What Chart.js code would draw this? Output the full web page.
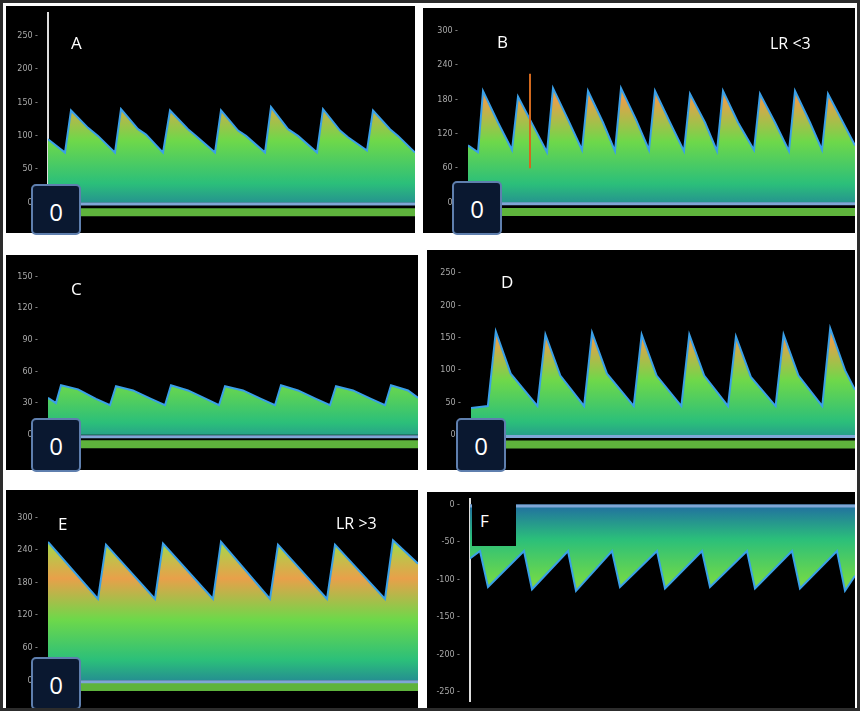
<!DOCTYPE html>
<html><head><meta charset="utf-8">
<script src="https://cdn.jsdelivr.net/npm/chart.js@4"></script>
<style>
html,body{margin:0;padding:0;background:#fff;}
#frame{position:relative;width:854px;height:705px;border:3px solid #2c2c2c;background:#fff;overflow:hidden;}
.panel{position:absolute;background:#000;}
.panel canvas{position:absolute;left:0;top:0;}
.lbl{position:absolute;color:#fff;font:17px "Open Sans",sans-serif;}
.zero{position:absolute;width:50px;height:50px;background:#0a1830;border:2px solid #5f7fae;border-radius:5px;color:#fff;font:24px "Open Sans",sans-serif;text-align:center;line-height:52px;box-sizing:border-box;}
</style></head><body>
<div id="frame"></div>
<script>
// waveform points: [time offset, velocity cm/s]
const waveA = [[0,95],[17,75],[23,138],[40,112],[50,100],[67,75],[73,140],[90,110],[98,102],[115,75],[122,138],[140,110],[148,100],[167,75],[173,138],[190,108],[198,100],[217,75],[223,143],[240,110],[250,100],[269,75],[275,140],[292,108],[300,98],[319,78],[325,138],[342,110],[350,100],[367,75]];
const waveB = [[0,100],[10,88],[15,195],[30,140],[44,92],[50,185],[65,135],[79,88],[85,200],[100,145],[114,92],[120,195],[135,140],[147,90],[153,200],[168,145],[181,92],[187,195],[202,140],[216,90],[222,190],[237,140],[249,90],[255,195],[270,140],[286,92],[292,190],[307,140],[321,90],[327,195],[342,140],[354,92],[360,190],[375,140],[387,100]];
const waveC = [[0,35],[8,30],[13,47],[30,43],[48,34],[62,28],[68,46],[85,42],[103,34],[117,28],[123,47],[140,42],[158,34],[171,28],[177,46],[195,42],[213,34],[227,28],[233,47],[250,42],[268,34],[282,28],[288,46],[305,42],[323,34],[337,28],[343,47],[360,42],[370,35]];
const waveD = [[0,42],[17,45],[25,160],[40,95],[67,45],[75,155],[90,92],[114,45],[122,158],[137,95],[164,45],[172,155],[187,92],[212,45],[220,155],[235,92],[259,45],[267,152],[282,90],[307,45],[315,155],[330,92],[354,45],[362,165],[377,100],[387,70]];
const waveE = [[0,255],[50,150],[58,250],[107,150],[115,252],[165,150],[173,255],[222,150],[230,250],[279,150],[287,250],[337,150],[345,258],[370,215]];
const waveF = [[0,-72],[10,-62],[18,-110],[54,-62],[62,-113],[98,-62],[106,-115],[142,-62],[150,-110],[187,-62],[195,-112],[232,-62],[240,-110],[277,-62],[285,-112],[322,-62],[330,-112],[367,-62],[375,-115],[385,-95]];

const ticksA = [0,50,100,150,200,250];
const ticksB = [0,60,120,180,240,300];
const ticksC = [0,30,60,90,120,150];
const ticksD = [0,50,100,150,200,250];
const ticksE = [0,60,120,180,240,300];
const ticksF = [-250,-200,-150,-100,-50,0];

const panels = [
  {id:'A', x:3, y:3, w:409, h:227, axis:42, span:367, min:-35, max:284, wave:waveA, ticks:ticksA, border:true, band:-14, letter:[65,25], zero:[25,178]},
  {id:'B', x:420, y:5, w:432, h:225, axis:45, span:387, min:-41, max:328, wave:waveB, ticks:ticksB, border:false, band:-16, letter:[74,22], zero:[29,173], note:['LR <3',347,24], mark:[62,60,145]},
  {id:'C', x:3, y:252, w:412, h:215, axis:42, span:370, min:-27, max:164, wave:waveC, ticks:ticksC, border:false, band:-9, letter:[65,22], zero:[25,163]},
  {id:'D', x:424, y:247, w:428, h:220, axis:44, span:387, min:-43, max:275, wave:waveD, ticks:ticksD, border:false, band:-14, letter:[74,20], zero:[29,168]},
  {id:'E', x:3, y:487, w:412, h:218, axis:42, span:370, min:-38, max:338, wave:waveE, ticks:ticksE, border:false, band:-12, letter:[52,22], zero:[25,167], note:['LR >3',330,22]},
  {id:'F', x:424, y:489, w:428, h:216, axis:43, span:385, min:-262, max:7.5, wave:waveF, ticks:ticksF, border:true, band:null, letter:[45,6]},
];

const frame = document.getElementById('frame');

function fillGrad(ctx, inverted) {
  const {chartArea} = ctx.chart; if (!chartArea) return null;
  const g = ctx.chart.ctx.createLinearGradient(0, chartArea.top, 0, chartArea.bottom);
  const stops = ['#3fd8b0','#9be04a','#e8a04a','#6ed84a','#2bbf7a','#1f5fa8'];
  stops.forEach((c, i) => g.addColorStop(inverted ? 1 - i/(stops.length-1) : i/(stops.length-1), c));
  return g;
}

for (const p of panels) {
  const div = document.createElement('div'); div.className = 'panel';
  Object.assign(div.style, {left:p.x+'px', top:p.y+'px', width:p.w+'px', height:p.h+'px'});
  const canvas = document.createElement('canvas'); canvas.width = p.w; canvas.height = p.h;
  canvas.style.width = p.w+'px'; canvas.style.height = p.h+'px';
  div.appendChild(canvas); frame.appendChild(div);

  const inv = p.id === 'F';
  const datasets = [{
    data: p.wave.map(([x,y]) => ({x,y})),
    borderColor: '#3aa0e8', borderWidth: 2, pointRadius: 0, tension: 0,
    fill: 'origin', backgroundColor: (ctx) => fillGrad(ctx, inv), order: 2,
  }, {
    data: [{x:0,y:-2},{x:p.span,y:-2}],
    borderColor: '#7fa6d6', borderWidth: 3, pointRadius: 0, fill: false, order: 0,
  }];
  if (p.band !== null) datasets.push({
    data: [{x:0,y:p.band},{x:p.span,y:p.band}],
    borderColor: 'rgba(110,210,70,0.85)', borderWidth: 8, pointRadius: 0, fill: false, order: 1,
  });
  if (p.mark) datasets.push({
    data: [{x:p.mark[0],y:p.mark[1]},{x:p.mark[0],y:p.mark[2]+80}],
    borderColor: '#d2691e', borderWidth: 2, pointRadius: 0, fill: false, order: 0,
  });

  new Chart(canvas, {
    type: 'line',
    data: { datasets },
    options: {
      responsive: false, animation: false,
      layout: { padding: 0 },
      plugins: { legend: { display: false }, tooltip: { enabled: false } },
      scales: {
        x: { type: 'linear', min: 0, max: p.span, display: false },
        y: {
          min: p.min, max: p.max,
          afterBuildTicks: (ax) => { ax.ticks = p.ticks.map(v => ({value: v})); },
          afterFit: (ax) => { ax.width = p.axis; },
          grid: { display: false },
          border: { display: p.border, color: '#ddd', width: 2 },
          ticks: { color: '#aaa', font: { size: 8, family: 'DejaVu Sans' }, padding: 2, callback: (v) => v + ' -' },
        },
      },
    },
  });

  const l = document.createElement('div'); l.className = 'lbl'; l.textContent = p.id;
  if (inv) { l.style.background = '#000'; l.style.width = '36px'; l.style.height = '48px'; l.style.paddingLeft = '8px'; l.style.lineHeight = '46px'; }
  l.style.left = p.letter[0]+'px'; l.style.top = p.letter[1]+'px'; div.appendChild(l);
  if (p.note) {
    const n = document.createElement('div'); n.className = 'lbl'; n.textContent = p.note[0];
    n.style.left = p.note[1]+'px'; n.style.top = p.note[2]+'px'; n.style.fontSize = '16px'; div.appendChild(n);
  }
  if (p.zero) {
    const z = document.createElement('div'); z.className = 'zero'; z.textContent = '0';
    z.style.left = p.zero[0]+'px'; z.style.top = p.zero[1]+'px'; z.style.height = (p.h - p.zero[1] + 2)+'px'; div.appendChild(z);
  }
}
</script>
</body></html>
